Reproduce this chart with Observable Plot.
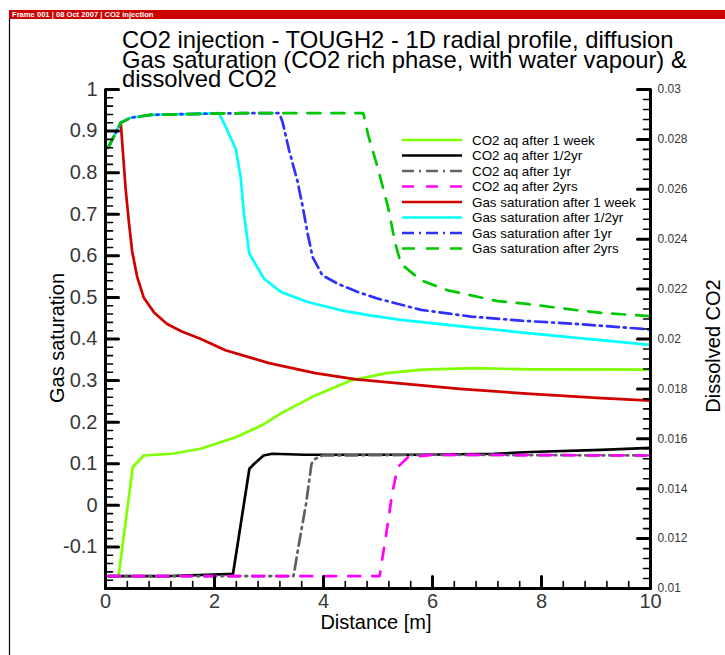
<!DOCTYPE html>
<html><head><meta charset="utf-8">
<script src="https://cdn.jsdelivr.net/npm/d3@7"></script>
<script src="https://cdn.jsdelivr.net/npm/@observablehq/plot@0.6"></script>
<style>
html,body{margin:0;padding:0;background:#fff;}
#wrap{position:relative;width:725px;height:655px;overflow:hidden;font-family:"Liberation Sans",Arial,Helvetica,sans-serif;}
#wrap > svg{position:absolute;left:0;top:0;}
</style></head><body><div id="wrap"></div>
<script>
// ---- tick labels ----
const xTickLabels = [0, 2, 4, 6, 8, 10];
const leftTickLabels = [1, 0.9, 0.8, 0.7, 0.6, 0.5, 0.4, 0.3, 0.2, 0.1, 0, -0.1];
const leftMajorTicks = [1, 0.9, 0.8, 0.7, 0.6, 0.5, 0.4, 0.3, 0.2, 0.1, 0, -0.1, -0.2];
const rightTickLabels = [0.03, 0.028, 0.026, 0.024, 0.022, 0.02, 0.018, 0.016, 0.014, 0.012, 0.01];
const xMinorStep = 0.4, leftMinorStep = 0.02, rightMinorStep = 0.0004;

// ---- series (distance [m], value) ----
// dissolved CO2 (right axis units)
const aq1week = [[0.05,0.0105],[0.24,0.0105],[0.50,0.01486],[0.70,0.01533],[1.22,0.0154],[1.75,0.0156],[2.40,0.01607],[2.86,0.01653],[3.26,0.01707],[3.85,0.01774],[4.50,0.01834],[5.16,0.01863],[5.82,0.01877],[6.80,0.01883],[7.79,0.01878],[10,0.01877]];
const aqHalfYr = [[0.05,0.0105],[1.2,0.0105],[2.34,0.01059],[2.64,0.0148],[2.73,0.0150],[2.90,0.01533],[3.06,0.0154],[3.65,0.01536],[5.82,0.01536],[7.13,0.0154],[7.79,0.01547],[9.1,0.01556],[10,0.01564]];
const aq1yr = [[0.05,0.0105],[3.45,0.0105],[3.55,0.01179],[3.68,0.0134],[3.78,0.0150],[3.85,0.0152],[3.98,0.01533],[6,0.01536],[10,0.01533]];
const aq2yr = [[0.05,0.0105],[5.03,0.0105],[5.16,0.01232],[5.26,0.0138],[5.36,0.01486],[5.55,0.01526],[6.01,0.01536],[10,0.01533]];
// gas saturation (left axis units)
const gas1week = [[0.05,0.86],[0.28,0.92],[0.37,0.76],[0.43,0.68],[0.49,0.61],[0.58,0.55],[0.70,0.50],[0.89,0.464],[1.13,0.436],[1.40,0.418],[1.75,0.400],[2.20,0.373],[3.00,0.342],[3.85,0.318],[4.60,0.303],[5.50,0.292],[6.50,0.280],[7.80,0.268],[9.10,0.258],[10,0.252]];
const gasHalfYr = [[0.05,0.86],[0.28,0.92],[0.46,0.932],[0.83,0.939],[1.5,0.941],[2.08,0.943],[2.21,0.909],[2.39,0.857],[2.48,0.789],[2.54,0.701],[2.64,0.605],[2.91,0.545],[3.22,0.513],[3.71,0.489],[4.32,0.469],[4.85,0.457],[5.42,0.446],[6.71,0.428],[8.55,0.404],[10,0.386]];
const gas1yr = [[0.05,0.86],[0.28,0.92],[0.46,0.932],[0.83,0.939],[1.5,0.941],[2.5,0.943],[3.19,0.943],[3.25,0.921],[3.37,0.853],[3.52,0.781],[3.62,0.717],[3.71,0.653],[3.80,0.597],[3.98,0.553],[4.26,0.533],[4.63,0.513],[5.0,0.497],[5.79,0.470],[6.71,0.454],[7.63,0.444],[8.55,0.437],[10,0.423]];
const gas2yr = [[0.05,0.86],[0.28,0.92],[0.46,0.932],[0.83,0.939],[1.5,0.941],[2.5,0.943],[3.5,0.943],[4.73,0.943],[4.82,0.89],[5.0,0.81],[5.19,0.714],[5.31,0.634],[5.42,0.581],[5.79,0.541],[6.28,0.517],[6.71,0.505],[7.2,0.491],[7.69,0.485],[8.18,0.477],[8.67,0.469],[9.16,0.462],[10,0.455]];

const seriesNames = ["CO2 aq after 1 week","CO2 aq after 1/2yr","CO2 aq after 1yr","CO2 aq after 2yrs",
  "Gas saturation after 1 week","Gas saturation after 1/2yr","Gas saturation after 1yr","Gas saturation after 2yrs"];
const seriesData = [aq1week, aqHalfYr, aq1yr, aq2yr, gas1week, gasHalfYr, gas1yr, gas2yr];
const seriesOnRight = [true, true, true, true, false, false, false, false];
const seriesColors = ["#80ff00","#000000","#606060","#ff00ff","#d00000","#00ffff","#3030ff","#00c800"];
const seriesDashes = [null, null, "12,5,2,5", "12,12", null, null, "12,5,2,5", "13,11"];

// right axis (0.01..0.03) mapped onto left axis (-0.2..1)
const leftDomain = [-0.2, 1], rightDomain = [0.01, 0.03];
const toLeft = v => leftDomain[0] + (v - rightDomain[0]) / (rightDomain[1] - rightDomain[0]) * (leftDomain[1] - leftDomain[0]);
const toRight = v => rightDomain[0] + (v - leftDomain[0]) / (leftDomain[1] - leftDomain[0]) * (rightDomain[1] - rightDomain[0]);

const tables = seriesData.map((arr, i) => arr.map(([x, y]) => ({x, y: seriesOnRight[i] ? toLeft(y) : y})));

const near = (a, b) => Math.abs(a - b) < 1e-9;
const xMinor = d3.range(0, 10 + 1e-9, xMinorStep).filter(v => !xTickLabels.some(t => near(t, v)));
const leftMinor = d3.range(-0.2, 1 + 1e-9, leftMinorStep).filter(v => !leftMajorTicks.some(t => near(t, v)));
const rightMinor = d3.range(0.01, 0.03 + 1e-9, rightMinorStep).filter(v => !rightTickLabels.some(t => near(t, v))).map(toLeft);
const rightMajor = rightTickLabels.map(toLeft);

const tickRight = {draw(ctx, l) { ctx.moveTo(0, 0); ctx.lineTo(l, 0); }};
const tickLeft = {draw(ctx, l) { ctx.moveTo(0, 0); ctx.lineTo(-l, 0); }};
const tickUp = {draw(ctx, l) { ctx.moveTo(0, 0); ctx.lineTo(0, -l); }};

const marks = [];
tables.forEach((t, i) => {
  marks.push(Plot.line(t, {x: "x", y: "y", stroke: seriesColors[i], strokeWidth: 2.7,
    strokeDasharray: seriesDashes[i] || undefined, strokeLinejoin: "round"}));
});
marks.push(
  Plot.vector(leftMajorTicks, {x: () => 0, y: d => d, length: 13, shape: tickRight, anchor: "start", stroke: "#000", strokeWidth: 3}),
  Plot.vector(leftMinor, {x: () => 0, y: d => d, length: 7, shape: tickRight, anchor: "start", stroke: "#000", strokeWidth: 1.6}),
  Plot.vector(rightMajor, {x: () => 10, y: d => d, length: 13, shape: tickLeft, anchor: "start", stroke: "#000", strokeWidth: 3}),
  Plot.vector(rightMinor, {x: () => 10, y: d => d, length: 7, shape: tickLeft, anchor: "start", stroke: "#000", strokeWidth: 1.6}),
  Plot.vector(xTickLabels, {x: d => d, y: () => -0.2, length: 12, shape: tickUp, anchor: "start", stroke: "#000", strokeWidth: 3}),
  Plot.vector(xMinor, {x: d => d, y: () => -0.2, length: 7, shape: tickUp, anchor: "start", stroke: "#000", strokeWidth: 1.6}),
  Plot.ruleX([0, 10], {stroke: "#000", strokeWidth: 3}),
  Plot.ruleY([-0.2], {stroke: "#000", strokeWidth: 3}),
  Plot.axisX(xTickLabels, {anchor: "bottom", tickSize: 0, tickPadding: 5, fontSize: 20, color: "#383838", label: null, tickFormat: d => String(d)}),
  Plot.axisY(leftTickLabels, {anchor: "left", tickSize: 0, tickPadding: 8, fontSize: 20, color: "#383838", label: null, tickFormat: d => String(+d.toFixed(1))}),
  Plot.axisY(rightMajor, {anchor: "right", tickSize: 0, tickPadding: 7, fontSize: 12, color: "#383838", label: null, tickFormat: d => String(+toRight(d).toFixed(3))})
);

const chart = Plot.plot({
  width: 725, height: 655,
  marginLeft: 105, marginRight: 75, marginTop: 89, marginBottom: 67,
  x: {domain: [0, 10]},
  y: {domain: leftDomain},
  style: {fontFamily: '"Liberation Sans", Arial, Helvetica, sans-serif', background: "#fff", overflow: "visible"},
  marks
});
const wrap = document.getElementById("wrap");
wrap.appendChild(chart);

// ---- overlay: header, titles, axis labels, legend ----
const ov = d3.select(wrap).append("svg").attr("width", 725).attr("height", 655)
  .style("font-family", '"Liberation Sans", Arial, Helvetica, sans-serif').style("pointer-events", "none");
ov.append("rect").attr("x", 9).attr("y", 10).attr("width", 716).attr("height", 9).attr("fill", "#cc0000");
ov.append("text").attr("x", 12).attr("y", 17.3).attr("fill", "#fff").attr("font-size", 7.6).attr("font-weight", "bold")
  .text("Frame 001 | 08 Oct 2007 | CO2 injection");
ov.append("line").attr("x1", 9.5).attr("x2", 9.5).attr("y1", 19).attr("y2", 655).attr("stroke", "#000").attr("stroke-width", 1.2);

const titleLines = ["CO2 injection - TOUGH2 - 1D radial profile, diffusion",
  "Gas saturation (CO2 rich phase, with water vapour) &", "dissolved CO2"];
titleLines.forEach((t, i) => ov.append("text").attr("x", 122).attr("y", 48 + i * 19.6)
  .attr("font-size", 23.8).attr("fill", "#000").text(t));

ov.append("text").attr("transform", "translate(64,338) rotate(-90)").attr("text-anchor", "middle")
  .attr("font-size", 20).text("Gas saturation");
ov.append("text").attr("transform", "translate(720,346) rotate(-90)").attr("text-anchor", "middle")
  .attr("font-size", 20).text("Dissolved CO2");
ov.append("text").attr("x", 376).attr("y", 629).attr("text-anchor", "middle")
  .attr("font-size", 20).text("Distance [m]");

const lg = ov.append("g");
seriesNames.forEach((name, i) => {
  const y = 140 + i * 15.5;
  lg.append("line").attr("x1", 402).attr("x2", 462).attr("y1", y).attr("y2", y)
    .attr("stroke", seriesColors[i]).attr("stroke-width", 2.7)
    .attr("stroke-dasharray", seriesDashes[i]);
  lg.append("text").attr("x", 472).attr("y", y + 4.6).attr("font-size", 13.4).text(name);
});
</script></body></html>
